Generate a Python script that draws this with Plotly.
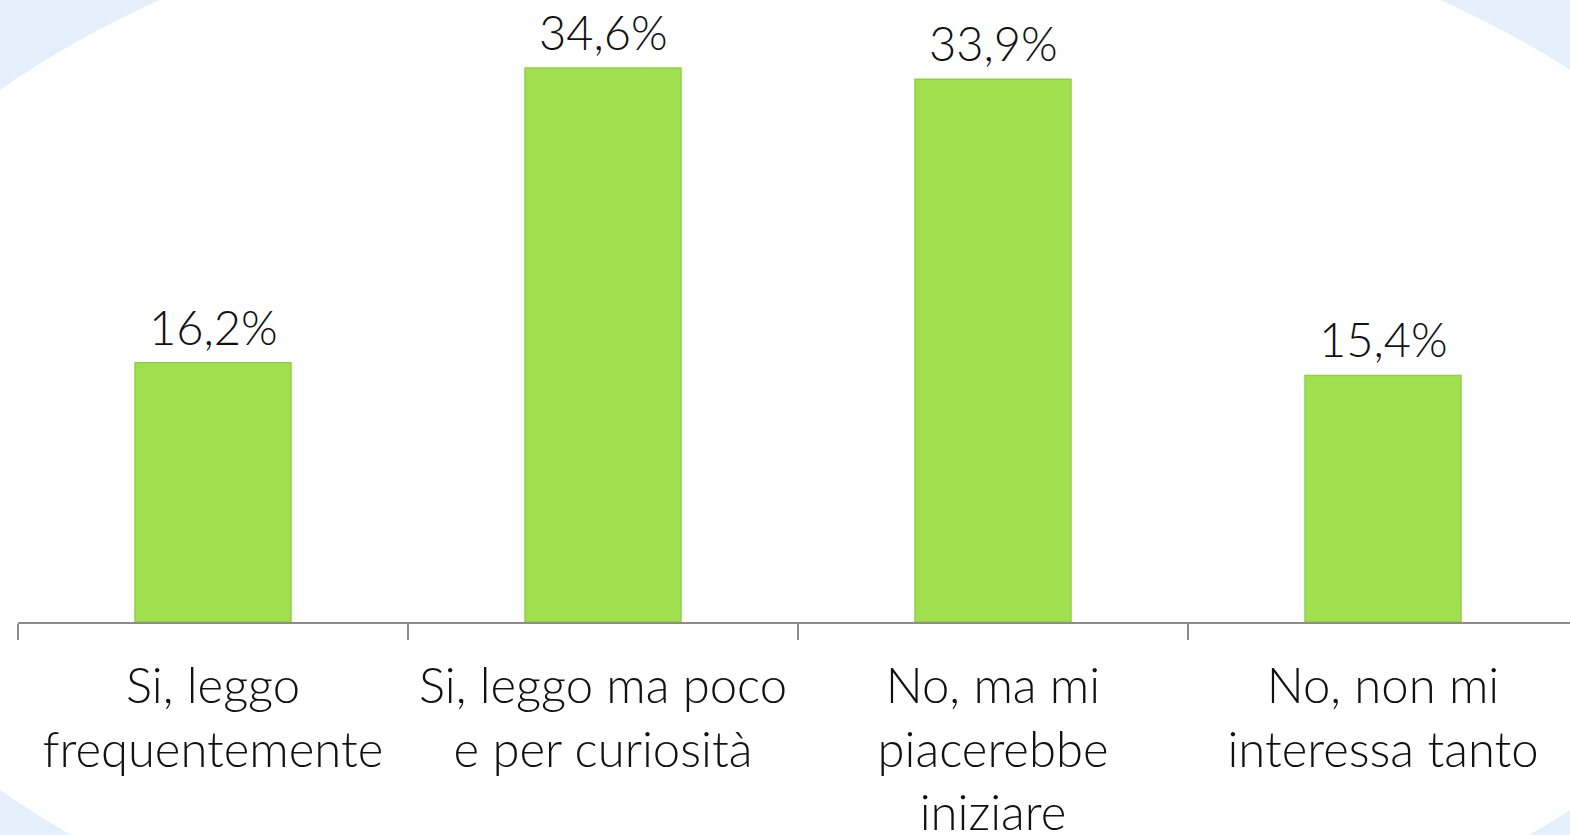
import plotly.graph_objects as go

categories = [
    "Si, leggo<br>frequentemente",
    "Si, leggo ma poco<br>e per curiosità",
    "No, ma mi<br>piacerebbe<br>iniziare",
    "No, non mi<br>interessa tanto",
]
values = [16.2, 34.6, 33.9, 15.4]
labels = [f"{v:.1f}%".replace(".", ",") for v in values]

W, H = 1570, 835
ml, mr, mt, mb = 18, 0, 0, 213
pw, ph = W - ml - mr, H - mt - mb

def px_x(p):
    return (p - ml) / pw

def px_y(p):
    return (H - mb - p) / ph

font_fam = "Lato"

fig = go.Figure(
    go.Bar(
        x=categories,
        y=values,
        width=0.4,
        marker=dict(color="#A0E04E", line=dict(color="#93CF45", width=1.5)),
        hoverinfo="skip",
    )
)

for c, v, t in zip(categories, values, labels):
    fig.add_annotation(
        x=c, y=v, text=t, showarrow=False, yanchor="bottom", yshift=6,
        font=dict(family=font_fam, size=47, color="#111111", weight=300),
    )

fig.add_shape(
    type="circle", xref="paper", yref="paper",
    x0=px_x(-218), x1=px_x(1818), y0=px_y(1006), y1=px_y(-126),
    fillcolor="white", line=dict(width=0), layer="below",
)

fig.update_layout(
    width=W, height=H, autosize=False,
    margin=dict(l=ml, r=mr, t=mt, b=mb, pad=0, autoexpand=False),
    paper_bgcolor="#E3EFFB",
    plot_bgcolor="rgba(0,0,0,0)",
    showlegend=False,
    xaxis=dict(
        range=[-0.5, 3.5 - 8 / 390],
        automargin=False,
        showline=True, linecolor="#8C8C8C", linewidth=2,
        ticks="outside", tickson="boundaries", ticklen=16, tickwidth=2, tickcolor="#8C8C8C",
        ticklabelstandoff=20,
        tickfont=dict(family=font_fam, size=49, color="#111111", weight=300),
        showgrid=False, zeroline=False,
    ),
    yaxis=dict(
        range=[0, 622 / 16.01],
        automargin=False,
        visible=False, showgrid=False, zeroline=False,
    ),
)

fig.write_html(
    "out.html",
    config={"displayModeBar": False},
    post_script="document.body.style.margin='0';",
)
